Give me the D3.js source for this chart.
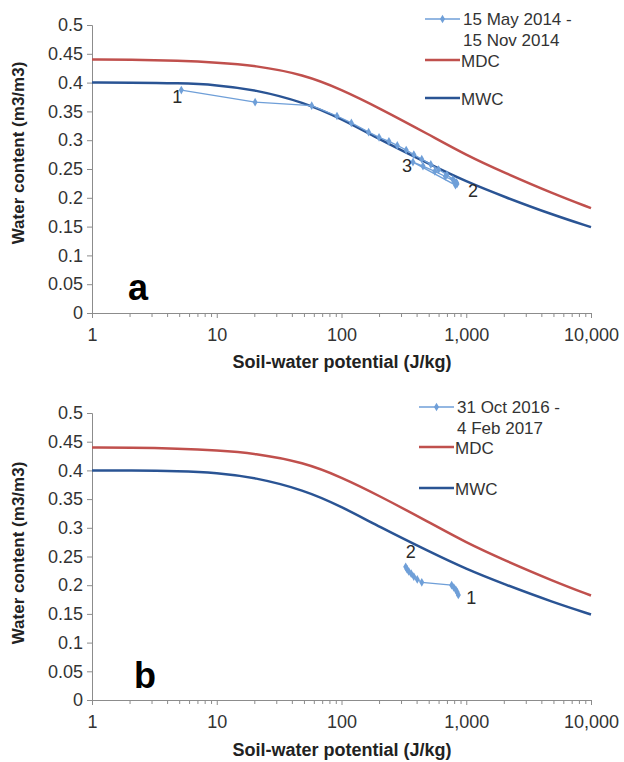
<!DOCTYPE html>
<html>
<head>
<meta charset="utf-8">
<script src="https://cdn.jsdelivr.net/npm/d3@7"></script>
<style>
  html, body { margin: 0; padding: 0; background: #fff; }
  svg { display: block; font-family: "Liberation Sans", Arial, sans-serif; }
</style>
</head>
<body>
<svg id="chart" width="624" height="762"></svg>
<script>
// ---------- data ----------
const potentials = [1, 2, 5, 10, 20, 50, 100, 200, 500, 1000, 2000, 5000, 10000];
const mdcValues  = [0.440, 0.440, 0.438, 0.435, 0.430, 0.414, 0.388, 0.356, 0.310, 0.274, 0.244, 0.207, 0.182];
const mwcValues  = [0.400, 0.400, 0.399, 0.396, 0.388, 0.366, 0.337, 0.302, 0.259, 0.228, 0.202, 0.170, 0.149];

// panel a: 15 May 2014 - 15 Nov 2014  [potential, water content]
const seriesA = [
  [5.2, 0.387], [20.3, 0.366], [57.7, 0.360], [92, 0.342], [120, 0.330], [165, 0.314],
  [200, 0.305], [240, 0.298], [280, 0.291], [330, 0.283], [380, 0.275], [440, 0.267],
  [520, 0.258], [600, 0.249], [700, 0.240], [780, 0.232], [830, 0.227], [843, 0.224],
  [820, 0.222], [374, 0.262], [450, 0.255], [560, 0.246], [680, 0.237], [800, 0.229], [835, 0.226]
];
// panel b: 31 Oct 2016 - 4 Feb 2017
const seriesB = [
  [864, 0.183], [845, 0.188], [825, 0.192], [795, 0.196], [764, 0.200], [440, 0.205],
  [405, 0.210], [380, 0.215], [362, 0.220], [346, 0.224], [335, 0.228], [327, 0.232]
];

const xTicks = [1, 10, 100, 1000, 10000];
const xTickLabels = ["1", "10", "100", "1,000", "10,000"];
const yTicks = [0, 0.05, 0.1, 0.15, 0.2, 0.25, 0.3, 0.35, 0.4, 0.45, 0.5];
const yTickLabels = ["0", "0.05", "0.1", "0.15", "0.2", "0.25", "0.3", "0.35", "0.4", "0.45", "0.5"];

const panelsText = [
  { letter: "a", legend: ["15 May 2014 -", "15 Nov 2014"], data: seriesA,
    pointLabels: [{ t: "1", at: [5.2, 0.387], dx: -4, dy: 13 }, { t: "3", at: [374, 0.262], dx: -6, dy: 10 }, { t: "2", at: [843, 0.224], dx: 16, dy: 13 }] },
  { letter: "b", legend: ["31 Oct 2016 -", "4 Feb 2017"], data: seriesB,
    pointLabels: [{ t: "2", at: [327, 0.232], dx: 5, dy: -9 }, { t: "1", at: [864, 0.183], dx: 13, dy: 9 }] }
];

// ---------- drawing ----------
const svg = d3.select("#chart");
const colMDC = "#c0504d", colMWC = "#2a5494", colData = "#6f9fd8";
const axisCol = "#8c8c8c", textCol = "#333";

const layouts = [
  { y0: 313, y1: 25, legendX: 425, legendY: 19, mdcY: 60, mwcY: 98, letterPos: [138, 300], xTitleY: 368, yTitleY: 153 },
  { y0: 700, y1: 413, legendX: 419, legendY: 407, mdcY: 447, mwcY: 488, letterPos: [145, 688], xTitleY: 756, yTitleY: 553 }
];

panelsText.forEach((p, i) => {
  const L = layouts[i];
  const x = d3.scaleLog().domain([1, 10000]).range([92, 591]);
  const y = d3.scaleLinear().domain([0, 0.5]).range([L.y0, L.y1]);
  const g = svg.append("g");

  // y axis
  const yAxis = d3.axisLeft(y).tickValues(yTicks).tickSize(5).tickPadding(4)
    .tickFormat((d, k) => yTickLabels[k]);
  const ya = g.append("g").attr("transform", `translate(92,0)`).call(yAxis);
  ya.select(".domain").attr("stroke", axisCol);
  ya.selectAll(".tick line").attr("stroke", axisCol);
  ya.selectAll(".tick text").attr("font-size", 18).attr("fill", textCol)
    .attr("font-family", "Liberation Sans, Arial, sans-serif");

  // x axis (minor ticks)
  const minor = [];
  for (let dec = 1; dec < 10000; dec *= 10) for (let m = 2; m <= 9; m++) minor.push(dec * m);
  const xMinor = d3.axisBottom(x).tickValues(minor).tickSize(4).tickFormat("");
  const xm = g.append("g").attr("transform", `translate(0,${L.y0})`).call(xMinor);
  xm.select(".domain").remove();
  xm.selectAll(".tick line").attr("stroke", axisCol);
  const xAxis = d3.axisBottom(x).tickValues(xTicks).tickSize(5).tickPadding(10)
    .tickFormat((d, k) => xTickLabels[k]);
  const xa = g.append("g").attr("transform", `translate(0,${L.y0})`).call(xAxis);
  xa.select(".domain").attr("stroke", axisCol);
  xa.selectAll(".tick line").attr("stroke", axisCol);
  xa.selectAll(".tick text").attr("font-size", 18).attr("fill", textCol)
    .attr("font-family", "Liberation Sans, Arial, sans-serif");

  // titles
  g.append("text").attr("x", 342).attr("y", L.xTitleY).attr("text-anchor", "middle")
    .attr("font-size", 18).attr("font-weight", "bold").attr("fill", "#222")
    .text("Soil-water potential (J/kg)");
  g.append("text").attr("transform", `translate(24,${L.yTitleY}) rotate(-90)`).attr("text-anchor", "middle")
    .attr("font-size", 17).attr("font-weight", "bold").attr("fill", "#222")
    .text("Water content (m3/m3)");
  g.append("text").attr("x", L.letterPos[0]).attr("y", L.letterPos[1]).attr("text-anchor", "middle")
    .attr("font-size", 36).attr("font-weight", "bold").attr("fill", "#000").text(p.letter);

  // curves
  const line = d3.line().x(d => x(d[0])).y(d => y(d[1])).curve(d3.curveBasis);
  g.append("path").datum(potentials.map((v, k) => [v, mdcValues[k]]))
    .attr("d", line).attr("fill", "none").attr("stroke", colMDC).attr("stroke-width", 2.5);
  g.append("path").datum(potentials.map((v, k) => [v, mwcValues[k]]))
    .attr("d", line).attr("fill", "none").attr("stroke", colMWC).attr("stroke-width", 2.5);

  // data series
  const dline = d3.line().x(d => x(d[0])).y(d => y(d[1]));
  g.append("path").datum(p.data).attr("d", dline).attr("fill", "none")
    .attr("stroke", colData).attr("stroke-width", 1.3);
  const sym = d3.symbol().type(d3.symbolDiamond).size(22);
  g.selectAll(".pt").data(p.data).join("path")
    .attr("transform", d => `translate(${x(d[0])},${y(d[1])})`)
    .attr("d", sym).attr("fill", colData);

  p.pointLabels.forEach(pl => {
    g.append("text").attr("x", x(pl.at[0]) + pl.dx).attr("y", y(pl.at[1]) + pl.dy)
      .attr("text-anchor", "middle").attr("font-size", 18).attr("fill", "#2a2a2a").text(pl.t);
  });

  // legend
  const lx = L.legendX, lw = 35;
  g.append("line").attr("x1", lx).attr("x2", lx + lw).attr("y1", L.legendY).attr("y2", L.legendY)
    .attr("stroke", colData).attr("stroke-width", 1.3);
  g.append("path").attr("transform", `translate(${lx + lw / 2},${L.legendY})`).attr("d", sym).attr("fill", colData);
  g.append("text").attr("x", lx + lw + 3).attr("y", L.legendY + 6).attr("font-size", 17).attr("fill", textCol).text(p.legend[0]);
  g.append("text").attr("x", lx + lw + 3).attr("y", L.legendY + 27).attr("font-size", 17).attr("fill", textCol).text(p.legend[1]);
  [[L.mdcY, colMDC, "MDC"], [L.mwcY, colMWC, "MWC"]].forEach(([yy, c, t]) => {
    g.append("line").attr("x1", lx).attr("x2", lx + lw).attr("y1", yy).attr("y2", yy)
      .attr("stroke", c).attr("stroke-width", 2.5);
    g.append("text").attr("x", lx + lw + 1).attr("y", yy + 7).attr("font-size", 17).attr("fill", textCol).text(t);
  });
});
</script>
</body>
</html>
